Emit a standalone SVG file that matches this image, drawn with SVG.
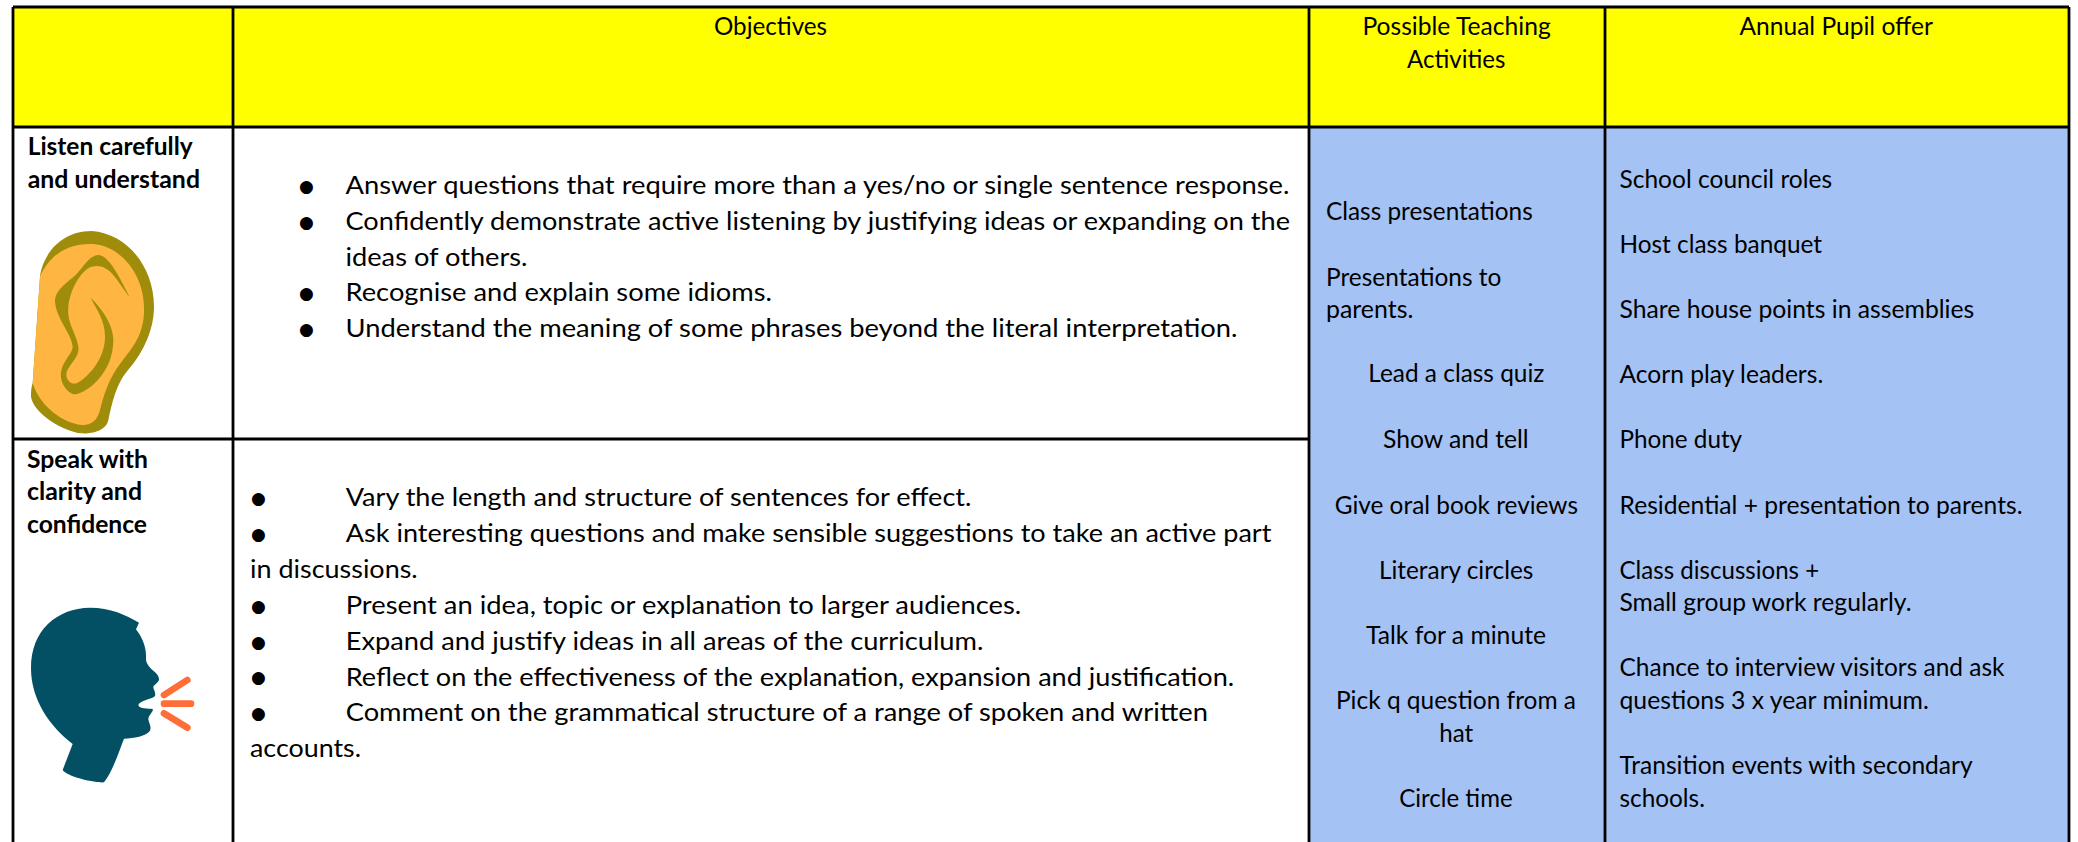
<svg xmlns="http://www.w3.org/2000/svg" width="2078" height="842" viewBox="0 0 2078 842">
<style>
text{font-family:"Lato","Liberation Sans",sans-serif;font-size:25.2px;fill:#000}
.b{font-weight:700}
.d{font-family:"DejaVu Sans",sans-serif;font-size:17px}
.g{stroke:#000;stroke-width:2.8;fill:none}
.s{stroke:#ff6d38;stroke-width:20;stroke-linecap:round;fill:none}
</style>
<rect width="2078" height="842" fill="#fff"/>
<g id="backgrounds">
<rect x="13" y="7" width="2056" height="120" fill="#ffff00"/>
<rect x="1309" y="127" width="760" height="715" fill="#a4c2f4"/>
</g>
<g id="grid">
<path class="g" d="M13 7H2069M13 127H2069M13 439H1309M13 7V842M233 7V842M1309 7V842M1605 7V842M2069 7V842"/>
</g>
<g id="header">
<text x="714" y="34.5" textLength="113" lengthAdjust="spacingAndGlyphs">Objectives</text>
<text x="1362.4" y="34.5" textLength="188.3" lengthAdjust="spacingAndGlyphs">Possible Teaching</text>
<text x="1407" y="67.5" textLength="98.4" lengthAdjust="spacingAndGlyphs">Activities</text>
<text x="1739.5" y="34.5" textLength="193.4" lengthAdjust="spacingAndGlyphs">Annual Pupil offer</text>
</g>
<g id="row-listen">
<text class="b" x="27.7" y="155" textLength="165" lengthAdjust="spacingAndGlyphs">Listen carefully</text>
<text class="b" x="27.7" y="188" textLength="172.3" lengthAdjust="spacingAndGlyphs">and understand</text>
<g id="ear" transform="translate(0 120) scale(.33333)">
<path fill="#a08c0b" d="M120 470C125 420 170 333 275 333C380 340 462 440 462 560C462 640 420 710 380 755C350 790 335 850 325 900C318 935 270 942 245 940C190 935 100 880 93 830C93 800 98 790 98 790Z"/>
<path fill="#ffb541" d="M120 470C150 400 210 368 280 372C360 378 430 460 432 560C435 640 400 680 365 725C325 775 310 830 300 870C290 910 265 915 245 915C190 910 120 860 98 790Z"/>
<path fill="#a08c0b" d="M388 530C350 450 320 405 295 405C270 405 250 440 230 462C200 490 165 510 165 545C170 600 215 640 218 680C218 700 190 720 183 755C178 790 205 822 225 823C260 820 340 760 340 660C340 610 300 560 272 533C290 570 315 600 315 650C315 720 260 775 230 790C210 795 195 775 200 755C210 730 240 710 235 680C230 640 200 610 205 560C210 510 240 460 265 445C290 430 320 440 340 465C360 490 375 515 388 530Z"/>
</g>
<text class="d" x="299" y="191.8">●</text>
<text x="345.5" y="194" textLength="944" lengthAdjust="spacingAndGlyphs">Answer questions that require more than a yes/no or single sentence response.</text>
<text class="d" x="299" y="227.8">●</text>
<text x="345.5" y="230" textLength="944.5" lengthAdjust="spacingAndGlyphs">Confidently demonstrate active listening by justifying ideas or expanding on the</text>
<text x="345.5" y="265.5" textLength="182" lengthAdjust="spacingAndGlyphs">ideas of others.</text>
<text class="d" x="299" y="299">●</text>
<text x="345.5" y="301.3" textLength="426.5" lengthAdjust="spacingAndGlyphs">Recognise and explain some idioms.</text>
<text class="d" x="299" y="334.5">●</text>
<text x="345.5" y="336.7" textLength="892" lengthAdjust="spacingAndGlyphs">Understand the meaning of some phrases beyond the literal interpretation.</text>
</g>
<g id="row-speak">
<text class="b" x="27" y="467.7" textLength="121" lengthAdjust="spacingAndGlyphs">Speak with</text>
<text class="b" x="27" y="500" textLength="115" lengthAdjust="spacingAndGlyphs">clarity and</text>
<text class="b" x="27" y="532.7" textLength="120" lengthAdjust="spacingAndGlyphs">confidence</text>
<g id="speaker" transform="translate(0 440) scale(.33333)">
<path fill="#035064" d="M188 990L218 912C150 860 93 780 93 685C93 570 170 505 270 503C330 503 380 525 417 548L408 568C425 590 440 620 438 655C437 665 445 680 460 692C472 702 480 712 476 722C470 732 460 735 460 742C460 750 468 755 465 768C460 777 420 780 415 795C418 808 445 805 458 807C462 815 445 825 445 838C447 850 455 860 450 872C440 888 400 895 372 896C355 940 335 1000 312 1027C290 1030 200 1010 188 990Z"/>
<path class="s" d="M492 765L562 720M492 791H573M492 820L562 863"/>
</g>
<text class="d" x="251" y="503.8">●</text>
<text x="345.7" y="506" textLength="625.8" lengthAdjust="spacingAndGlyphs">Vary the length and structure of sentences for effect.</text>
<text class="d" x="251" y="539.8">●</text>
<text x="345.7" y="542" textLength="925.7" lengthAdjust="spacingAndGlyphs">Ask interesting questions and make sensible suggestions to take an active part</text>
<text x="250" y="578" textLength="167.7" lengthAdjust="spacingAndGlyphs">in discussions.</text>
<text class="d" x="251" y="611.8">●</text>
<text x="345.7" y="614" textLength="675.6" lengthAdjust="spacingAndGlyphs">Present an idea, topic or explanation to larger audiences.</text>
<text class="d" x="251" y="647.8">●</text>
<text x="345.7" y="650" textLength="637.7" lengthAdjust="spacingAndGlyphs">Expand and justify ideas in all areas of the curriculum.</text>
<text class="d" x="251" y="683.3">●</text>
<text x="345.7" y="685.5" textLength="888.5" lengthAdjust="spacingAndGlyphs">Reflect on the effectiveness of the explanation, expansion and justification.</text>
<text class="d" x="251" y="718.8">●</text>
<text x="345.7" y="721" textLength="862.2" lengthAdjust="spacingAndGlyphs">Comment on the grammatical structure of a range of spoken and written</text>
<text x="250" y="756.7" textLength="111" lengthAdjust="spacingAndGlyphs">accounts.</text>
</g>
<g id="activities">
<text x="1326" y="220" textLength="206.7" lengthAdjust="spacingAndGlyphs">Class presentations</text>
<text x="1326" y="285.7" textLength="175.3" lengthAdjust="spacingAndGlyphs">Presentations to</text>
<text x="1326" y="317.7" textLength="87.3" lengthAdjust="spacingAndGlyphs">parents.</text>
<text x="1368.3" y="382.3" textLength="176" lengthAdjust="spacingAndGlyphs">Lead a class quiz</text>
<text x="1383" y="447.7" textLength="145.7" lengthAdjust="spacingAndGlyphs">Show and tell</text>
<text x="1334.7" y="513.5" textLength="243.3" lengthAdjust="spacingAndGlyphs">Give oral book reviews</text>
<text x="1379" y="579" textLength="154.3" lengthAdjust="spacingAndGlyphs">Literary circles</text>
<text x="1366" y="644" textLength="180" lengthAdjust="spacingAndGlyphs">Talk for a minute</text>
<text x="1336" y="709" textLength="240" lengthAdjust="spacingAndGlyphs">Pick q question from a</text>
<text x="1439.3" y="741.7" textLength="34" lengthAdjust="spacingAndGlyphs">hat</text>
<text x="1399.3" y="806.7" textLength="113.3" lengthAdjust="spacingAndGlyphs">Circle time</text>
</g>
<g id="offer">
<text x="1619.5" y="188" textLength="212.6" lengthAdjust="spacingAndGlyphs">School council roles</text>
<text x="1619.5" y="253.3" textLength="202.5" lengthAdjust="spacingAndGlyphs">Host class banquet</text>
<text x="1619.5" y="318.3" textLength="354.8" lengthAdjust="spacingAndGlyphs">Share house points in assemblies</text>
<text x="1619.5" y="383.3" textLength="203.7" lengthAdjust="spacingAndGlyphs">Acorn play leaders.</text>
<text x="1619.5" y="448.3" textLength="122.6" lengthAdjust="spacingAndGlyphs">Phone duty</text>
<text x="1619.5" y="514.3" textLength="403" lengthAdjust="spacingAndGlyphs">Residential + presentation to parents.</text>
<text x="1619.5" y="578.7" textLength="199.7" lengthAdjust="spacingAndGlyphs">Class discussions +</text>
<text x="1619.5" y="611" textLength="292" lengthAdjust="spacingAndGlyphs">Small group work regularly.</text>
<text x="1619.5" y="676" textLength="385" lengthAdjust="spacingAndGlyphs">Chance to interview visitors and ask</text>
<text x="1619.5" y="708.7" textLength="309.3" lengthAdjust="spacingAndGlyphs">questions 3 x year minimum.</text>
<text x="1619.5" y="774" textLength="353.2" lengthAdjust="spacingAndGlyphs">Transition events with secondary</text>
<text x="1619.5" y="806.7" textLength="85.4" lengthAdjust="spacingAndGlyphs">schools.</text>
</g>
</svg>
